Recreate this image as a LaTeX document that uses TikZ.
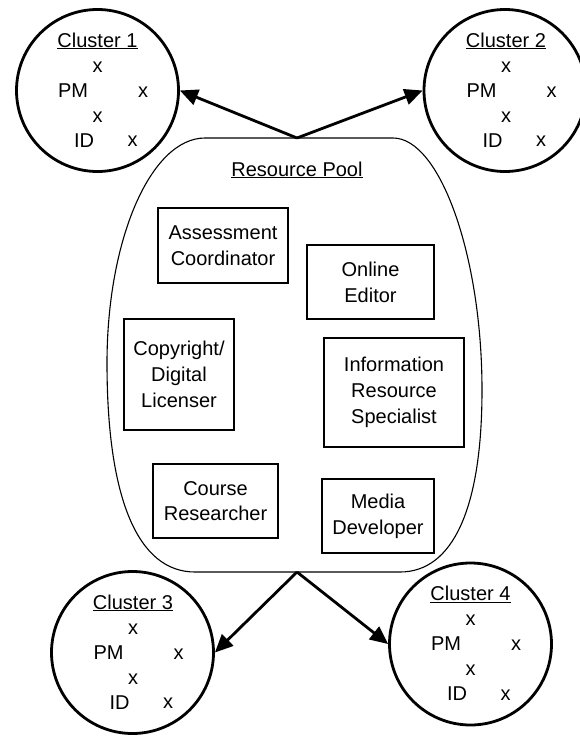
\documentclass[tikz,border=0pt]{standalone}
\usepackage{fontspec}
\setmainfont{Liberation Sans}
\usetikzlibrary{arrows.meta}
\tikzset{
  cluster/.style={draw, circle, line width=2.8pt, minimum size=162pt, inner sep=0pt},
  role/.style={draw, rectangle, line width=2.4pt, align=center, inner sep=0pt},
  lbl/.style={inner sep=0pt, anchor=base},
  link/.style={line width=2.8pt, -{Triangle[length=18pt,width=16pt]}},
  pool/.style={draw, line width=1.1pt},
}
\newcommand{\clusterbody}[2]{%
  \node[lbl] (#1t) at (0,-43.5) {\underline{Cluster #2}};
  \node[lbl] (#1xa) at (0,-18.5) {x};
  \node[lbl] (#1pm) at (-24.5,6.5) {PM};
  \node[lbl] (#1xb) at (45.5,6.5) {x};
  \node[lbl] (#1xc) at (0,31.5) {x};
  \node[lbl] (#1id) at (-13.5,56.5) {ID};
  \node[lbl] (#1xd) at (35,56) {x};
}
\begin{document}
\begin{tikzpicture}[x=1pt,y=-1pt]
\fontsize{20}{25.7}\selectfont
\useasboundingbox (0,0) rectangle (580,736);
% resource pool outline
\draw[pool] (205,138) -- (393,138)
  .. controls (440,138) and (482,256) .. (482,390)
  .. controls (482,508) and (453,572) .. (400,572)
  -- (195,572)
  .. controls (138,572) and (107,499) .. (107,363)
  .. controls (107,239) and (151,138) .. (205,138) -- cycle;
\coordinate (ptop) at (297,138);
\coordinate (pbot) at (297,572);
\node[lbl] (pooltitle) at (297,176) {\underline{Resource Pool}};
% roles
\node[role, minimum width=130pt, minimum height=75pt] (ac) at (223,245.5) {Assessment\\Coordinator};
\node[role, minimum width=127pt, minimum height=74pt] (oe) at (370.5,282) {Online\\Editor};
\node[role, minimum width=110pt, minimum height=111pt] (cdl) at (179,374.5) {Copyright/\\Digital\\Licenser};
\node[role, minimum width=140pt, minimum height=109pt] (irs) at (394,392.5) {Information\\Resource\\Specialist};
\node[role, minimum width=125pt, minimum height=74pt] (cr) at (215.5,501) {Course\\Researcher};
\node[role, minimum width=112pt, minimum height=74pt] (md) at (378,516) {Media\\Developer};
% clusters
\node[cluster] (c1) at (97.5,90.5) {};
\node[cluster] (c2) at (505,90.5) {};
\node[cluster] (c3) at (132.5,652.5) {};
\node[cluster] (c4) at (470.5,644) {};
\begin{scope}[shift={(97.5,90.5)}]\clusterbody{a}{1}\end{scope}
\begin{scope}[shift={(506,90.5)}]\clusterbody{b}{2}\end{scope}
\begin{scope}[shift={(133,652.5)}]\clusterbody{c}{3}\end{scope}
\begin{scope}[shift={(470.5,644)}]\clusterbody{d}{4}\end{scope}
% connectors
\draw[link] (ptop) -- (c1.east);
\draw[link] (ptop) -- (c2.west);
\draw[link] (pbot) -- (c3.east);
\draw[link] (pbot) -- (c4.west);
\end{tikzpicture}
\end{document}
